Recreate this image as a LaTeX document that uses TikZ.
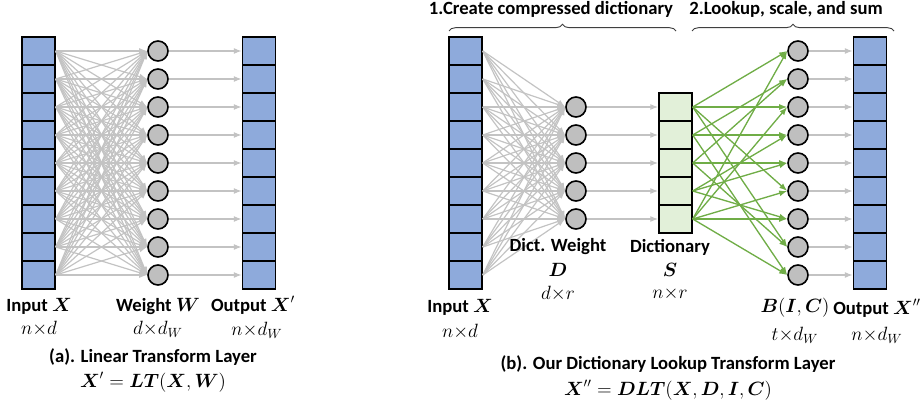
\documentclass[tikz,border=0pt]{standalone}
\usepackage{amsmath,amssymb}
\usepackage{fontspec}
\setmainfont{Carlito}
\usetikzlibrary{arrows.meta,decorations.pathreplacing}
\definecolor{cellblue}{RGB}{142,170,219}
\definecolor{dictgreen}{RGB}{226,240,217}
\definecolor{linkgreen}{RGB}{112,173,71}
\definecolor{linkgray}{RGB}{195,195,195}
\definecolor{unitgray}{RGB}{191,191,191}
\definecolor{bracegray}{RGB}{64,64,64}

\begin{document}
\begin{tikzpicture}[x=0.75pt,y=-0.75pt,
    cell/.style={draw, line width=1.1pt, fill=cellblue, minimum width=24.75pt, minimum height=21pt, inner sep=0pt},
    dcell/.style={cell, fill=dictgreen},
    unit/.style={circle, draw, line width=1.2pt, fill=unitgray, minimum size=15pt, inner sep=0pt},
    wire/.style={draw=linkgray, line width=0.9pt, -{Latex[length=6pt,width=4.5pt]}},
    gwire/.style={wire, draw=linkgreen, line width=1pt},
    lbl/.style={font=\fontsize{14}{16}\selectfont\bfseries, inner sep=0pt},
    dim/.style={font=\fontsize{14}{16}\selectfont, inner sep=0pt},
    bracket/.style={draw=bracegray, line width=0.7pt, decorate, decoration={brace, amplitude=5pt}}]
    \useasboundingbox (0,0) rectangle (923,406);

    % (a) linear transform layer
    \foreach \i in {1,...,9} {
        \node[cell] (ax\i) at (38.5,23+28*\i) {};
        \node[unit] (aw\i) at (158,23+28*\i) {};
        \node[cell] (ay\i) at (259,23+28*\i) {};
    }
    \foreach \i in {1,...,9} {
        \foreach \j in {1,...,9}
            \draw[wire] (ax\i.east) -- (aw\j.west);
        \draw[wire] (aw\i) -- (ay\i);
    }
    \node[lbl] (ainlbl) at (39,306) {Input $\boldsymbol{X}$};
    \node[dim] (ainsz) at (39,329) {$n{\times}d$};
    \node[lbl] (awlbl) at (158,306) {Weight $\boldsymbol{W}$};
    \node[dim] (awsz) at (158,329) {$d{\times}d_W$};
    \node[lbl] (aoutlbl) at (253,305) {Output $\boldsymbol{X}'$};
    \node[dim] (aoutsz) at (257,330) {$n{\times}d_W$};
    \node[lbl] (acap) at (153,357) {(a). Linear Transform Layer};
    \node[dim] (aeq) at (153,382) {$\boldsymbol{X}'=\boldsymbol{LT}(\boldsymbol{X},\boldsymbol{W})$};

    % (b) dictionary lookup transform layer
    \foreach \i in {1,...,9} {
        \node[cell] (bx\i) at (465.5,23+28*\i) {};
        \node[unit] (bb\i) at (798,23+28*\i) {};
        \node[cell] (by\i) at (870,23+28*\i) {};
    }
    \foreach \k in {1,...,5} {
        \node[unit] (bd\k) at (576,79+28*\k) {};
        \node[dcell] (bs\k) at (675.5,79+28*\k) {};
    }
    \foreach \i in {1,...,9} {
        \foreach \k in {1,...,5}
            \draw[wire] (bx\i.east) -- (bd\k.west);
        \draw[wire] (bb\i) -- (by\i);
    }
    \foreach \k in {1,...,5}
        \draw[wire] (bd\k) -- (bs\k);
    \foreach \s/\t in {1/1,1/3,1/6,1/8,2/2,2/4,2/9,3/2,3/5,3/8,4/4,4/5,4/7,5/1,5/3,5/6,5/7,5/9}
        \draw[gwire] (bs\s.east) -- (bb\t.west);

    \node[lbl] (binlbl) at (460,307) {Input $\boldsymbol{X}$};
    \node[dim] (binsz) at (460,332) {$n{\times}d$};
    \node[lbl] (bdlbl) at (558,247) {Dict. Weight};
    \node[dim] (bdsym) at (558,270) {$\boldsymbol{D}$};
    \node[dim] (bdsz) at (558,294) {$d{\times}r$};
    \node[lbl] (bslbl) at (670,247) {Dictionary};
    \node[dim] (bssym) at (670,270) {$\boldsymbol{S}$};
    \node[dim] (bssz) at (670,294) {$n{\times}r$};
    \node[dim] (bblbl) at (795,308) {$\boldsymbol{B}(\boldsymbol{I},\boldsymbol{C})$};
    \node[dim] (bbsz) at (795,335) {$t{\times}d_W$};
    \node[lbl] (boutlbl) at (877,308) {Output $\boldsymbol{X}''$};
    \node[dim] (boutsz) at (877,335) {$n{\times}d_W$};
    \node[lbl] (bcap) at (668,364) {(b). Our Dictionary Lookup Transform Layer};
    \node[dim] (beq) at (668,390) {$\boldsymbol{X}''=\boldsymbol{DLT}(\boldsymbol{X},\boldsymbol{D},\boldsymbol{I},\boldsymbol{C})$};

    % steps
    \coordinate (s1l) at (449,31);
    \coordinate (s1r) at (676,31);
    \coordinate (s2l) at (692,31);
    \coordinate (s2r) at (894,31);
    \draw[bracket] (s1l) -- (s1r);
    \draw[bracket] (s2l) -- (s2r);
    \node[lbl] (step1) at (551,9) {1.Create compressed dictionary};
    \node[lbl] (step2) at (786,9) {2.Lookup, scale, and sum};
\end{tikzpicture}
\end{document}
